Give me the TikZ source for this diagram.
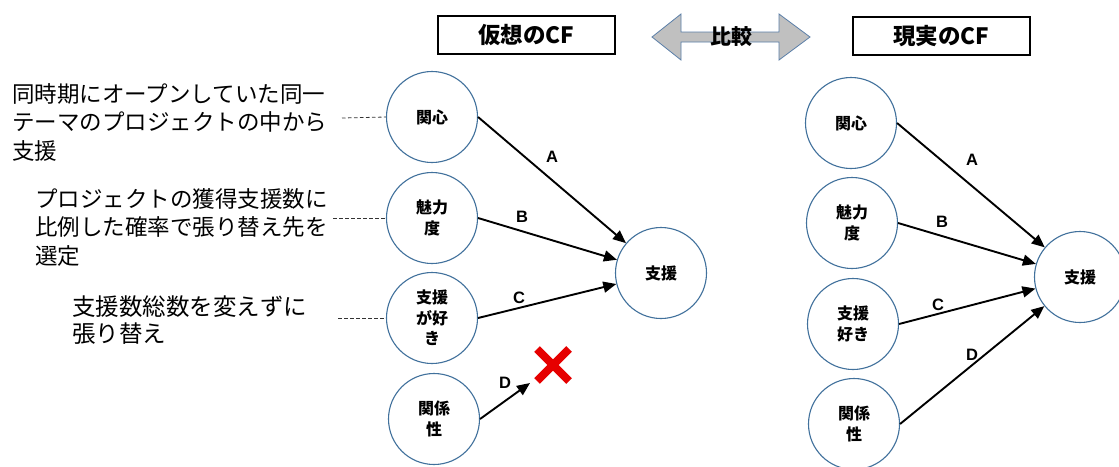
\documentclass[tikz,border=0pt]{standalone}
\usepackage{fontspec}
\setmainfont{Noto Sans CJK JP}
\newfontfamily\latinb{Liberation Sans}
\usetikzlibrary{arrows.meta}
\definecolor{circblue}{HTML}{41719C}
\definecolor{arrgray}{HTML}{C0C0C0}
\definecolor{arrblue}{HTML}{5B7FA8}
\definecolor{xred}{HTML}{E60000}
\tikzset{
  factor/.style={circle, draw=circblue, line width=1.1pt, minimum size=91pt, inner sep=0pt,
    align=center, font=\fontsize{16}{20.5}\selectfont\bfseries},
  conn/.style={line width=1.9pt, -{Triangle[length=13pt,width=11pt]}},
  lab/.style={font=\fontsize{16.5}{18}\selectfont\latinb\bfseries, inner sep=0pt},
  titlebox/.style={draw, line width=1.1pt, minimum width=177pt, minimum height=38pt,
    font=\fontsize{22.5}{24}\selectfont\bfseries, inner sep=0pt},
  note/.style={anchor=west, align=left, inner sep=0pt, font=\fontsize{22.5}{28.5}\selectfont},
  guide/.style={dash pattern=on 3.5pt off 2.5pt, line width=0.8pt, draw=black!80},
}
\begin{document}
\begin{tikzpicture}[x=1pt,y=-1pt]
\clip (0,0) rectangle (1119,466);
\fill[white] (0,0) rectangle (1119,466);

% titles
\node[titlebox] (t1) at (526.5,35) {仮想のCF};
\node[titlebox] (t2) at (941.5,36) {現実のCF};

% comparison double arrow
\filldraw[fill=arrgray, draw=arrblue, line width=0.8pt]
  (652,37) -- (681,14) -- (681,32) -- (779,32) -- (779,14) -- (810,37)
  -- (779,60) -- (779,42) -- (681,42) -- (681,60) -- cycle;
\node[font=\fontsize{21}{22}\selectfont\bfseries, inner sep=0pt] (cmp) at (731,37) {比較};

% left notes
\node[note] (n1) at (12,122) {同時期にオープンしていた同一\\テーマのプロジェクトの中から\\支援};
\node[note] (n2) at (35,227) {プロジェクトの獲得支援数に\\比例した確率で張り替え先を\\選定};
\node[note, font=\fontsize{23.5}{27}\selectfont] (n3) at (72,320) {支援数総数を変えずに\\張り替え};

% left (virtual) diagram
\node[factor] (L1) at (432,117) {関心};
\node[factor] (L2) at (432,218) {魅力\\度};
\node[factor] (L3) at (432,318) {支援\\が好\\き};
\node[factor] (L4) at (434,419) {関係\\性};
\node[factor] (LS) at (661,273) {支援};

\coordinate (d1) at (342,118);
\coordinate (d2) at (333,218);
\coordinate (d3) at (338,318);
\draw[guide] (d1) -- (L1.west);
\draw[guide] (d2) -- (L2.west);
\draw[guide] (d3) -- (L3.west);

\coordinate (Dend) at (530,383);
\draw[conn] (L1.east) -- (LS);
\draw[conn] (L2.east) -- (LS);
\draw[conn] (L3.east) -- (LS);
\draw[conn] (L4.east) -- (Dend);

\node[lab] (la) at (552,157) {A};
\node[lab] (lb) at (522,217) {B};
\node[lab] (lc) at (519,298) {C};
\node[lab] (ld) at (505,383) {D};

% red cross
\coordinate (x1) at (537,349);
\coordinate (x2) at (569,381);
\coordinate (x3) at (569,349);
\coordinate (x4) at (537,381);
\draw[xred, line width=8pt] (x1) -- (x2);
\draw[xred, line width=8pt] (x3) -- (x4);

% right (real) diagram
\node[factor] (R1) at (851,123) {関心};
\node[factor] (R2) at (852,223) {魅力\\度};
\node[factor] (R3) at (853,324) {支援\\好き};
\node[factor] (R4) at (854,424) {関係\\性};
\node[factor] (RS) at (1080,277) {支援};

\draw[conn] (R1.east) -- (RS);
\draw[conn] (R2.east) -- (RS);
\draw[conn] (R3.east) -- (RS);
\draw[conn] (R4.east) -- (RS);

\node[lab] (ra) at (972,160) {A};
\node[lab] (rb) at (942,222) {B};
\node[lab] (rc) at (938,305) {C};
\node[lab] (rd) at (972,355) {D};
\end{tikzpicture}
\end{document}
